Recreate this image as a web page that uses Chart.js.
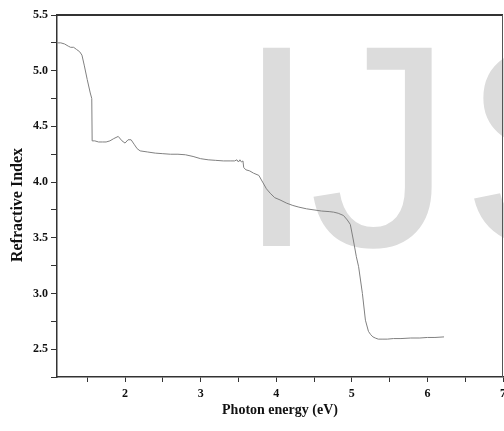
<!DOCTYPE html>
<html>
<head>
<meta charset="utf-8">
<script src="https://cdn.jsdelivr.net/npm/chart.js@4/dist/chart.umd.min.js"></script>
<style>
html,body{margin:0;padding:0;background:#fff;}
#wrap{width:504px;height:431px;}
</style>
</head>
<body>
<div id="wrap"><canvas id="c" width="504" height="431"></canvas></div>
<script>
// Photon energy (eV)
const energy = [1.10, 1.15, 1.20, 1.25, 1.28, 1.32, 1.36, 1.40, 1.43, 1.46, 1.50, 1.54, 1.56, 1.565, 1.60, 1.65, 1.70, 1.75, 1.80, 1.85, 1.91, 1.96, 2.00, 2.04, 2.08, 2.12, 2.16, 2.20, 2.30, 2.40, 2.50, 2.60, 2.70, 2.80, 2.90, 3.00, 3.10, 3.20, 3.30, 3.40, 3.45, 3.48, 3.50, 3.52, 3.54, 3.56, 3.57, 3.60, 3.65, 3.70, 3.77, 3.82, 3.87, 3.92, 3.98, 4.05, 4.14, 4.22, 4.30, 4.40, 4.50, 4.60, 4.70, 4.76, 4.82, 4.89, 4.94, 4.98, 5.02, 5.06, 5.09, 5.14, 5.18, 5.22, 5.25, 5.28, 5.31, 5.35, 5.40, 5.47, 5.55, 5.65, 5.78, 5.90, 6.00, 6.10, 6.22];
// Refractive index
const refractiveIndex = [5.25, 5.25, 5.24, 5.22, 5.21, 5.21, 5.19, 5.17, 5.14, 5.05, 4.92, 4.80, 4.75, 4.37, 4.37, 4.36, 4.36, 4.36, 4.37, 4.39, 4.41, 4.37, 4.35, 4.38, 4.38, 4.34, 4.30, 4.28, 4.27, 4.26, 4.255, 4.25, 4.25, 4.245, 4.23, 4.21, 4.20, 4.195, 4.19, 4.19, 4.19, 4.20, 4.18, 4.20, 4.18, 4.19, 4.13, 4.11, 4.10, 4.08, 4.06, 4.00, 3.94, 3.90, 3.86, 3.84, 3.81, 3.79, 3.775, 3.76, 3.75, 3.74, 3.735, 3.73, 3.72, 3.70, 3.66, 3.62, 3.48, 3.33, 3.24, 3.00, 2.76, 2.66, 2.63, 2.61, 2.60, 2.59, 2.59, 2.59, 2.595, 2.595, 2.60, 2.60, 2.605, 2.605, 2.61];
const xTitle = 'Photon energy (eV)';
const yTitle = 'Refractive Index';
const watermarkLetters = ['I', 'J', 'S'];

const points = energy.map((e, i) => ({x: e, y: refractiveIndex[i]}));

const serif = '"Liberation Serif", "Times New Roman", serif';

const watermarkPlugin = {
  id: 'watermark',
  beforeDatasetsDraw(chart) {
    const ctx = chart.ctx;
    ctx.save();
    ctx.font = '288px "Liberation Sans", Arial, sans-serif';
    ctx.fillStyle = '#dcdcdc';
    ctx.textBaseline = 'alphabetic';
    ctx.textAlign = 'left';
    const base = 246;
    let m = ctx.measureText(watermarkLetters[0]);
    ctx.fillText(watermarkLetters[0], 259 + m.actualBoundingBoxLeft, base);
    m = ctx.measureText(watermarkLetters[1]);
    const w = m.actualBoundingBoxLeft + m.actualBoundingBoxRight;
    const sx = Math.min(1.25, Math.max(1, 113 / w));
    ctx.save();
    ctx.translate(435, 0);
    ctx.scale(sx, 1);
    ctx.fillText(watermarkLetters[1], -m.actualBoundingBoxRight, base);
    ctx.restore();
    m = ctx.measureText(watermarkLetters[2]);
    ctx.fillText(watermarkLetters[2], 470 + m.actualBoundingBoxLeft, base);
    ctx.restore();
  }
};

const yTitlePlugin = {
  id: 'yTitleShift',
  beforeDraw(chart) {
    // nudge the y-axis title a little below the axis centre, as in the reference
    const s = chart.scales.y;
    if (!s._titleShifted) {
      const orig = s.drawTitle.bind(s);
      s.drawTitle = function () {
        const ctx = this.ctx;
        ctx.save();
        ctx.translate(0, 9);
        orig();
        ctx.restore();
      };
      s._titleShifted = true;
    }
  }
};

const framePlugin = {
  id: 'frame',
  afterDatasetsDraw(chart) {
    const {ctx, chartArea: a} = chart;
    ctx.save();
    ctx.strokeStyle = '#333';
    ctx.lineWidth = 2;
    ctx.beginPath();
    ctx.moveTo(a.left, a.top);
    ctx.lineTo(a.right, a.top);
    ctx.stroke();
    ctx.strokeStyle = '#555';
    ctx.lineWidth = 1;
    ctx.beginPath();
    ctx.moveTo(a.right - 0.5, a.top);
    ctx.lineTo(a.right - 0.5, a.bottom);
    ctx.stroke();
    ctx.restore();
  }
};

new Chart(document.getElementById('c'), {
  type: 'line',
  data: {
    datasets: [{
      data: points,
      borderColor: '#808080',
      borderWidth: 1,
      pointRadius: 0,
      tension: 0,
      fill: false
    }]
  },
  options: {
    responsive: false,
    animation: false,
    devicePixelRatio: 1,
    layout: {padding: {top: 15, right: 1, left: 0, bottom: 0}},
    plugins: {legend: {display: false}, tooltip: {enabled: false}},
    scales: {
      x: {
        type: 'linear',
        min: 1.1,
        max: 7,
        afterFit(s) { s.height = 54; s.paddingLeft = 0; s.paddingRight = 0; },
        border: {color: '#333', width: 1.5},
        grid: {drawOnChartArea: false, drawTicks: true, tickLength: 5, color: '#333'},
        ticks: {
          stepSize: 0.5,
          includeBounds: false,
          autoSkip: false,
          maxRotation: 0,
          padding: 5,
          color: '#111',
          font: {family: serif, size: 12, weight: 'bold'},
          callback(v) { return Math.abs(v - Math.round(v)) < 1e-6 ? String(Math.round(v)) : ''; }
        },
        title: {
          display: true,
          text: xTitle,
          color: '#111',
          font: {family: serif, size: 14, weight: 'bold'},
          padding: {top: 0, bottom: 12}
        }
      },
      y: {
        type: 'linear',
        min: 2.25,
        max: 5.5,
        afterFit(s) { s.width = 57; s.paddingTop = 0; s.paddingBottom = 0; },
        border: {color: '#333', width: 1.5},
        grid: {drawOnChartArea: false, drawTicks: true, tickLength: 6, color: '#333'},
        ticks: {
          stepSize: 0.25,
          includeBounds: false,
          autoSkip: false,
          padding: 3,
          color: '#111',
          font: {family: serif, size: 12, weight: 'bold'},
          callback(v) { return Math.abs(v * 2 - Math.round(v * 2)) < 1e-6 ? v.toFixed(1) : ''; }
        },
        title: {
          display: true,
          text: yTitle,
          color: '#111',
          font: {family: serif, size: 16, weight: 'bold'},
          padding: {top: 8, bottom: 0}
        }
      }
    }
  },
  plugins: [watermarkPlugin, yTitlePlugin, framePlugin]
});
</script>
</body>
</html>
